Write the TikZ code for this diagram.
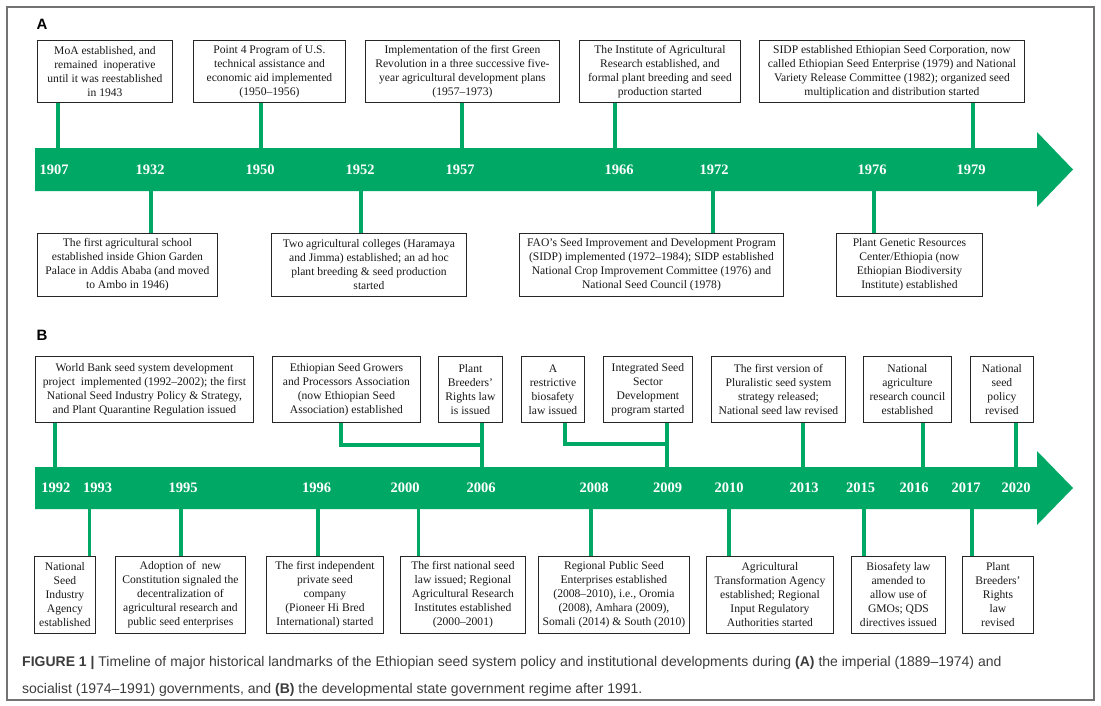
\documentclass[tikz,border=0pt]{standalone}
\usepackage{fontspec}
\setmainfont{Liberation Serif}
\setsansfont{Liberation Sans}
\definecolor{seedgreen}{RGB}{0,168,102}
\definecolor{capgray}{RGB}{60,60,60}
\tikzset{
  evbox/.style={draw=black!85, line width=0.9pt, fill=white, inner sep=0pt,
    align=center, anchor=north west, text=black!90, font=\fontsize{11.6}{14}\selectfont},
  stem/.style={draw=seedgreen, line width=3.6pt},
  yearlbl/.style={text=white, font=\bfseries\fontsize{14.5}{15}\selectfont},
  panellbl/.style={font=\sffamily\bfseries\fontsize{15}{15}\selectfont},
  capline/.style={anchor=west, inner sep=0pt, text=capgray, font=\sffamily\fontsize{14}{15}\selectfont}
}
\begin{document}
\begin{tikzpicture}[x=1pt, y=-1pt]
  \useasboundingbox (0,0) rectangle (1101,705);
  \draw[black!55, line width=1.1pt] (7,7) rectangle (1094,700);

  % panel A
  \node[panellbl] (labA) at (42,24) {A};
  \fill[seedgreen] (35,148) -- (1037,148) -- (1037,132) -- (1073,169.5) -- (1037,207) -- (1037,191) -- (35,191) -- cycle;
  \coordinate (t1907) at (58,148);
  \coordinate (t1950) at (261,148);
  \coordinate (t1957) at (462,148);
  \coordinate (t1966) at (615,148);
  \coordinate (t1979) at (973,148);
  \coordinate (t1932) at (151,191);
  \coordinate (t1952) at (361,191);
  \coordinate (t1972) at (713,191);
  \coordinate (t1976) at (874,191);

  \node[evbox, minimum width=135, minimum height=62] (a1) at (37,40)
    {MoA established, and\\remained\ \ inoperative\\until it was reestablished\\in 1943};
  \node[evbox, minimum width=152, minimum height=62] (a2) at (193,40)
    {Point 4 Program of U.S.\\technical assistance and\\economic aid implemented\\(1950--1956)};
  \node[evbox, minimum width=194, minimum height=62] (a3) at (365,40)
    {Implementation of the first Green\\Revolution in a three successive five-\\year agricultural development plans\\(1957--1973)};
  \node[evbox, minimum width=161, minimum height=62] (a4) at (579,40)
    {The Institute of Agricultural\\Research established, and\\formal plant breeding and seed\\production started};
  \node[evbox, minimum width=265, minimum height=62] (a5) at (759,40)
    {SIDP established Ethiopian Seed Corporation, now\\called Ethiopian Seed Enterprise (1979) and National\\Variety Release Committee (1982); organized seed\\multiplication and distribution started};

  \node[evbox, minimum width=180, minimum height=63] (b1) at (37,233)
    {The first agricultural school\\established inside Ghion Garden\\Palace in Addis Ababa (and moved\\to Ambo in 1946)};
  \node[evbox, minimum width=195, minimum height=63] (b2) at (271,233)
    {Two agricultural colleges (Haramaya\\and Jimma) established; an ad hoc\\plant breeding \& seed production\\started};
  \node[evbox, minimum width=264, minimum height=63] (b3) at (519,233)
    {FAO’s Seed Improvement and Development Program\\(SIDP) implemented (1972--1984); SIDP established\\National Crop Improvement Committee (1976) and\\National Seed Council (1978)};
  \node[evbox, minimum width=146, minimum height=63] (b4) at (836,233)
    {Plant Genetic Resources\\Center/Ethiopia (now\\Ethiopian Biodiversity\\Institute) established};

  \draw[stem] (t1907) -- (t1907 |- a1.south);
  \draw[stem] (t1950) -- (t1950 |- a2.south);
  \draw[stem] (t1957) -- (t1957 |- a3.south);
  \draw[stem] (t1966) -- (t1966 |- a4.south);
  \draw[stem] (t1979) -- (t1979 |- a5.south);
  \draw[stem] (t1932) -- (t1932 |- b1.north);
  \draw[stem] (t1952) -- (t1952 |- b2.north);
  \draw[stem] (t1972) -- (t1972 |- b3.north);
  \draw[stem] (t1976) -- (t1976 |- b4.north);

  \node[yearlbl] (y1907) at (54,170) {1907};
  \node[yearlbl] (y1932) at (150,170) {1932};
  \node[yearlbl] (y1950) at (260,170) {1950};
  \node[yearlbl] (y1952) at (360,170) {1952};
  \node[yearlbl] (y1957) at (460,170) {1957};
  \node[yearlbl] (y1966) at (619,170) {1966};
  \node[yearlbl] (y1972) at (714,170) {1972};
  \node[yearlbl] (y1976) at (872,170) {1976};
  \node[yearlbl] (y1979) at (971,170) {1979};

  % panel B
  \node[panellbl] (labB) at (42,335) {B};
  \fill[seedgreen] (35,467) -- (1037,467) -- (1037,451) -- (1073,488) -- (1037,525) -- (1037,509) -- (35,509) -- cycle;
  \coordinate (t1992) at (55,467);
  \coordinate (t2006) at (482,467);
  \coordinate (t2009) at (667,467);
  \coordinate (t2013) at (803,467);
  \coordinate (t2016) at (923,467);
  \coordinate (t2020) at (1016,467);
  \coordinate (j2006) at (482,445);
  \coordinate (j2009) at (667,444);
  \coordinate (k2006) at (341,445);
  \coordinate (k2009) at (565,444);
  \coordinate (t1993) at (89.5,509);
  \coordinate (t1995) at (181,509);
  \coordinate (t1996) at (318,509);
  \coordinate (t2000) at (418.5,509);
  \coordinate (t2008) at (591,509);
  \coordinate (t2010) at (729,509);
  \coordinate (t2015) at (864,509);
  \coordinate (t2017) at (972,509);

  \node[evbox, minimum width=218, minimum height=66] (c1) at (35,356)
    {World Bank seed system development\\project\ \ implemented (1992--2002); the first\\National Seed Industry Policy \& Strategy,\\and Plant Quarantine Regulation issued};
  \node[evbox, minimum width=148, minimum height=66] (c2) at (272,356)
    {Ethiopian Seed Growers\\and Processors Association\\(now Ethiopian Seed\\Association) established};
  \node[evbox, minimum width=64, minimum height=66] (c3) at (438,356)
    {Plant\\Breeders’\\Rights law\\is issued};
  \node[evbox, minimum width=63, minimum height=66] (c4) at (521,356)
    {A\\restrictive\\biosafety\\law issued};
  \node[evbox, minimum width=89, minimum height=66] (c5) at (603,356)
    {Integrated Seed\\Sector\\Development\\program started};
  \node[evbox, minimum width=134, minimum height=66] (c6) at (711,356)
    {The first version of\\Pluralistic seed system\\strategy released;\\National seed law revised};
  \node[evbox, minimum width=88, minimum height=66] (c7) at (863,356)
    {National\\agriculture\\research council\\established};
  \node[evbox, minimum width=63, minimum height=66] (c8) at (970,356)
    {National\\seed\\policy\\revised};

  \node[evbox, minimum width=61, minimum height=77] (d1) at (34,556)
    {National\\Seed\\Industry\\Agency\\established};
  \node[evbox, minimum width=130, minimum height=77] (d2) at (115,556)
    {Adoption of\ \ new\\Constitution signaled the\\decentralization of\\agricultural research and\\public seed enterprises};
  \node[evbox, minimum width=117, minimum height=77] (d3) at (266,556)
    {The first independent\\private seed\\company\\(Pioneer Hi Bred\\International) started};
  \node[evbox, minimum width=125, minimum height=77] (d4) at (400,556)
    {The first national seed\\law issued; Regional\\Agricultural Research\\Institutes established\\(2000--2001)};
  \node[evbox, minimum width=151, minimum height=77] (d5) at (538,556)
    {Regional Public Seed\\Enterprises established\\(2008--2010), i.e., Oromia\\(2008), Amhara (2009),\\Somali (2014) \& South (2010)};
  \node[evbox, minimum width=127, minimum height=77] (d6) at (706,556)
    {Agricultural\\Transformation Agency\\established; Regional\\Input Regulatory\\Authorities started};
  \node[evbox, minimum width=94, minimum height=77] (d7) at (851,556)
    {Biosafety law\\amended to\\allow use of\\GMOs; QDS\\directives issued};
  \node[evbox, minimum width=71, minimum height=77] (d8) at (962,556)
    {Plant\\Breeders’\\Rights\\law\\revised};

  \draw[stem] (t1992) -- (t1992 |- c1.south);
  \draw[stem] (t2006) -- (t2006 |- c3.south);
  \draw[stem] (k2006 |- c2.south) -- (k2006) -- (j2006);
  \draw[stem] (t2009) -- (t2009 |- c5.south);
  \draw[stem] (k2009 |- c4.south) -- (k2009) -- (j2009);
  \draw[stem] (t2013) -- (t2013 |- c6.south);
  \draw[stem] (t2016) -- (t2016 |- c7.south);
  \draw[stem] (t2020) -- (t2020 |- c8.south);
  \draw[stem] (t1993) -- (t1993 |- d1.north);
  \draw[stem] (t1995) -- (t1995 |- d2.north);
  \draw[stem] (t1996) -- (t1996 |- d3.north);
  \draw[stem] (t2000) -- (t2000 |- d4.north);
  \draw[stem] (t2008) -- (t2008 |- d5.north);
  \draw[stem] (t2010) -- (t2010 |- d6.north);
  \draw[stem] (t2015) -- (t2015 |- d7.north);
  \draw[stem] (t2017) -- (t2017 |- d8.north);

  \node[yearlbl] (y1992) at (56,488) {1992};
  \node[yearlbl] (y1993) at (97.5,488) {1993};
  \node[yearlbl] (y1995) at (183,488) {1995};
  \node[yearlbl] (y1996) at (316.5,488) {1996};
  \node[yearlbl] (y2000) at (405,488) {2000};
  \node[yearlbl] (y2006) at (481,488) {2006};
  \node[yearlbl] (y2008) at (594,488) {2008};
  \node[yearlbl] (y2009) at (667.5,488) {2009};
  \node[yearlbl] (y2010) at (729,488) {2010};
  \node[yearlbl] (y2013) at (804,488) {2013};
  \node[yearlbl] (y2015) at (860.5,488) {2015};
  \node[yearlbl] (y2016) at (914,488) {2016};
  \node[yearlbl] (y2017) at (966,488) {2017};
  \node[yearlbl] (y2020) at (1016,488) {2020};

  % caption
  \node[capline] (cap1) at (22,663) {\textbf{FIGURE 1 |} Timeline of major historical landmarks of the Ethiopian seed system policy and institutional developments during \textbf{(A)} the imperial (1889--1974) and};
  \node[capline] (cap2) at (22,690) {socialist (1974--1991) governments, and \textbf{(B)} the developmental state government regime after 1991.};
\end{tikzpicture}
\end{document}
